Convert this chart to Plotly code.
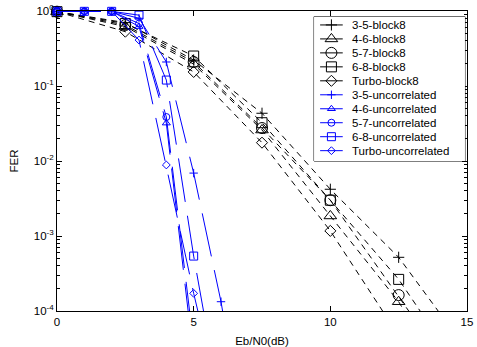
import plotly.graph_objects as go

# Eb/N0 grid (dB) for each family of curves
ebn0_block8 = [0, 2.5, 5, 7.5, 10, 12.5, 15]
ebn0_uncorr = [0, 1, 2, 3, 4, 5, 6, 7]

# Frame error rates, block-8 interleaved channel
fer_35_block8 = [0.98, 0.70, 0.222, 0.0433, 0.0042, 5.2e-4, 3e-5]
fer_46_block8 = [0.98, 0.62, 0.196, 0.0259, 0.00185, 1.33e-4, 4e-6]
fer_57_block8 = [0.98, 0.65, 0.209, 0.0275, 0.0030, 1.63e-4, 8e-6]
fer_68_block8 = [0.98, 0.68, 0.251, 0.0324, 0.0030, 2.64e-4, 1.2e-5]
fer_turbo_block8 = [0.98, 0.53, 0.154, 0.01755, 0.00117, 4.7e-5, 3e-6]

# Frame error rates, uncorrelated channel
fer_35_uncorr = [0.99, 0.99, 0.99, 0.80, 0.209, 0.0069, 1.33e-4, 1e-6]
fer_46_uncorr = [0.99, 0.99, 0.99, 0.62, 0.032, 2.3e-5, 1e-7]
fer_57_uncorr = [0.99, 0.99, 0.99, 0.68, 0.0386, 3.5e-5, 1e-7]
fer_68_uncorr = [0.99, 0.99, 0.99, 0.88, 0.12, 5.4e-4, 5e-6]
fer_turbo_uncorr = [0.99, 0.99, 0.99, 0.41, 0.00885, 1.72e-4, 5e-6]

series_names = ["3-5-block8", "4-6-block8", "5-7-block8", "6-8-block8", "Turbo-block8",
                "3-5-uncorrelated", "4-6-uncorrelated", "5-7-uncorrelated",
                "6-8-uncorrelated", "Turbo-uncorrelated"]

x_ticks = [0, 5, 10, 15]
y_tick_vals = [1e-4, 1e-3, 1e-2, 1e-1, 1]
y_tick_text = ["10<sup>-4</sup>", "10<sup>-3</sup>", "10<sup>-2</sup>", "10<sup>-1</sup>", "10<sup>0</sup>"]
y_minor_vals = [m * 10.0 ** e for e in range(-4, 0) for m in range(2, 10)]

BLACK = "#000000"
BLUE = "#0000ff"
FONT = "Liberation Sans, Arial, sans-serif"

series = [
    (ebn0_block8, fer_35_block8, BLACK, "cross-thin-open", 8, "6px,5px"),
    (ebn0_block8, fer_46_block8, BLACK, "triangle-up-open", 11, "6px,5px"),
    (ebn0_block8, fer_57_block8, BLACK, "circle-open", 11, "6px,5px"),
    (ebn0_block8, fer_68_block8, BLACK, "square-open", 10, "6px,5px"),
    (ebn0_block8, fer_turbo_block8, BLACK, "diamond-open", 8.5, "6px,5px"),
    (ebn0_uncorr, fer_35_uncorr, BLUE, "cross-thin-open", 6, "44px,14px"),
    (ebn0_uncorr[:7], fer_46_uncorr, BLUE, "triangle-up-open", 7, "44px,14px"),
    (ebn0_uncorr[:7], fer_57_uncorr, BLUE, "circle-open", 7, "44px,14px"),
    (ebn0_uncorr[:7], fer_68_uncorr, BLUE, "square-open", 8, "44px,14px"),
    (ebn0_uncorr[:7], fer_turbo_uncorr, BLUE, "diamond-open", 6, "44px,14px"),
]

fig = go.Figure()

for name, (xs, ys, color, symbol, size, dash) in zip(series_names, series):
    fig.add_trace(go.Scatter(
        x=xs, y=ys, name=name, mode="lines+markers",
        line=dict(color=color, width=1, dash=dash),
        marker=dict(symbol=symbol, size=size, color=color,
                    line=dict(color=color, width=1)),
        cliponaxis=False, showlegend=False,
    ))

# Hand-drawn legend on its own small overlay axis (one unit per row)
LEG_X0, LEG_X1, LEG_Y0, LEG_Y1 = 0.627, 0.995, 0.5, 0.981
ROW_TOP, ROW_BOTTOM = 0.41, 10.74
fig.add_shape(type="rect", xref="paper", yref="paper",
              x0=LEG_X0, x1=LEG_X1, y0=LEG_Y0, y1=LEG_Y1,
              line=dict(color=BLACK, width=1), fillcolor="white", layer="below")


def row_to_paper(row):
    return LEG_Y0 + (LEG_Y1 - LEG_Y0) * (ROW_BOTTOM - row) / (ROW_BOTTOM - ROW_TOP)


for i, (name, (_, _, color, symbol, size, _)) in enumerate(zip(series_names, series)):
    row = i + 1
    fig.add_trace(go.Scatter(
        x=[0.04, 0.19], y=[row, row], mode="lines",
        line=dict(color=color, width=1), xaxis="x2", yaxis="y2",
        showlegend=False, hoverinfo="skip",
    ))
    fig.add_trace(go.Scatter(
        x=[0.115], y=[row], mode="markers",
        marker=dict(symbol=symbol, size=size, color=color, line=dict(color=color, width=1)),
        xaxis="x2", yaxis="y2", showlegend=False, hoverinfo="skip", cliponaxis=False,
    ))
    fig.add_annotation(x=LEG_X0 + 0.238 * (LEG_X1 - LEG_X0), y=row_to_paper(row),
                       xref="paper", yref="paper", text=name,
                       showarrow=False, xanchor="left", yanchor="middle",
                       font=dict(family=FONT, size=11.5, color=BLACK))

axis_common = dict(showline=True, linecolor=BLACK, linewidth=1, mirror="allticks",
                   ticks="inside", tickcolor=BLACK, ticklen=5, tickwidth=1,
                   showgrid=False, zeroline=False,
                   tickfont=dict(family=FONT, size=11.5, color=BLACK))

fig.update_layout(
    width=477, height=347,
    margin=dict(l=57, r=10, t=11, b=36),
    paper_bgcolor="white", plot_bgcolor="white",
    font=dict(family=FONT, size=11.5, color=BLACK),
    xaxis=dict(range=[0, 15], tickvals=x_ticks, ticktext=[str(v) for v in x_ticks],
               title=dict(text="Eb/N0(dB)", standoff=10,
                          font=dict(family=FONT, size=11.5, color=BLACK)),
               automargin=False, **axis_common),
    yaxis=dict(type="log", range=[-4, 0], tickvals=y_tick_vals, ticktext=y_tick_text,
               minor=dict(tickmode="array", tickvals=y_minor_vals, ticks="inside",
                          ticklen=3, tickcolor=BLACK, tickwidth=1),
               title=dict(text="FER", standoff=12,
                          font=dict(family=FONT, size=11.5, color=BLACK)),
               automargin=False, **axis_common),
    xaxis2=dict(domain=[LEG_X0, LEG_X1], range=[0, 1], visible=False, anchor="y2",
                fixedrange=True),
    yaxis2=dict(domain=[LEG_Y0, LEG_Y1], range=[ROW_BOTTOM, ROW_TOP], visible=False,
                anchor="x2", fixedrange=True),
)

fig.write_html("out.html")
